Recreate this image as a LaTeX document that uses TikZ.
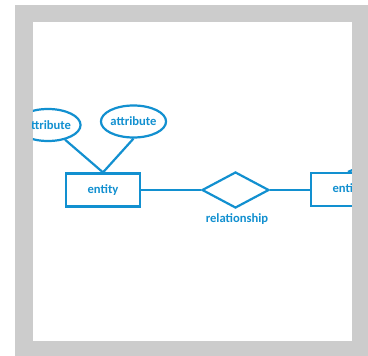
\documentclass[tikz,border=0pt]{standalone}
\usepackage{fontspec}
\setmainfont{Carlito}
\usetikzlibrary{shapes.geometric}
\definecolor{erblue}{RGB}{18,144,208}
\definecolor{framegray}{RGB}{204,204,204}
\tikzset{
    erline/.style={draw=erblue, line width=2.2pt},
    ertext/.style={text=erblue, font=\fontsize{12.6}{15}\selectfont\bfseries},
    attr/.style={erline, ertext, ellipse, inner sep=0pt, minimum width=61pt, minimum height=32pt},
    ent/.style={erline, ertext, rectangle, inner sep=0pt, minimum width=74pt, minimum height=33pt},
    rel/.style={erline, diamond, inner sep=0pt, minimum width=67pt, minimum height=36pt}
}

\begin{document}
\begin{tikzpicture}[x=1pt,y=-1pt]
    \useasboundingbox (0,0) rectangle (368,356);
    \fill[white] (0,0) rectangle (368,356);
    \fill[framegray] (15,5) rectangle (368,356);
    \fill[white] (33,22) rectangle (352,341);
    \begin{scope}
    \clip (33,22) rectangle (352,341);
    \node[attr] (attrA) at (48,125) {attribute};
    \node[attr] (attrB) at (133.5,121.5) {attribute};
    \node[ent] (entA) at (103,190) {entity};
    \node[rel] (relA) at (235.5,190) {};
    \node[ertext, anchor=north] (relLabel) at (237,210) {relationship};
    \node[ent] (entB) at (348,189.5) {entity};
    \coordinate (attrC) at (400,150);
    \draw[erline] (attrA) -- (entA.north);
    \draw[erline] (attrB.south) -- (entA.north);
    \draw[erline] (entA.east) -- (relA.west);
    \draw[erline] (relA.east) -- (relA.east -| entB.west);
    \draw[erline] (entB.north) -- (attrC);
    \end{scope}
\end{tikzpicture}
\end{document}
